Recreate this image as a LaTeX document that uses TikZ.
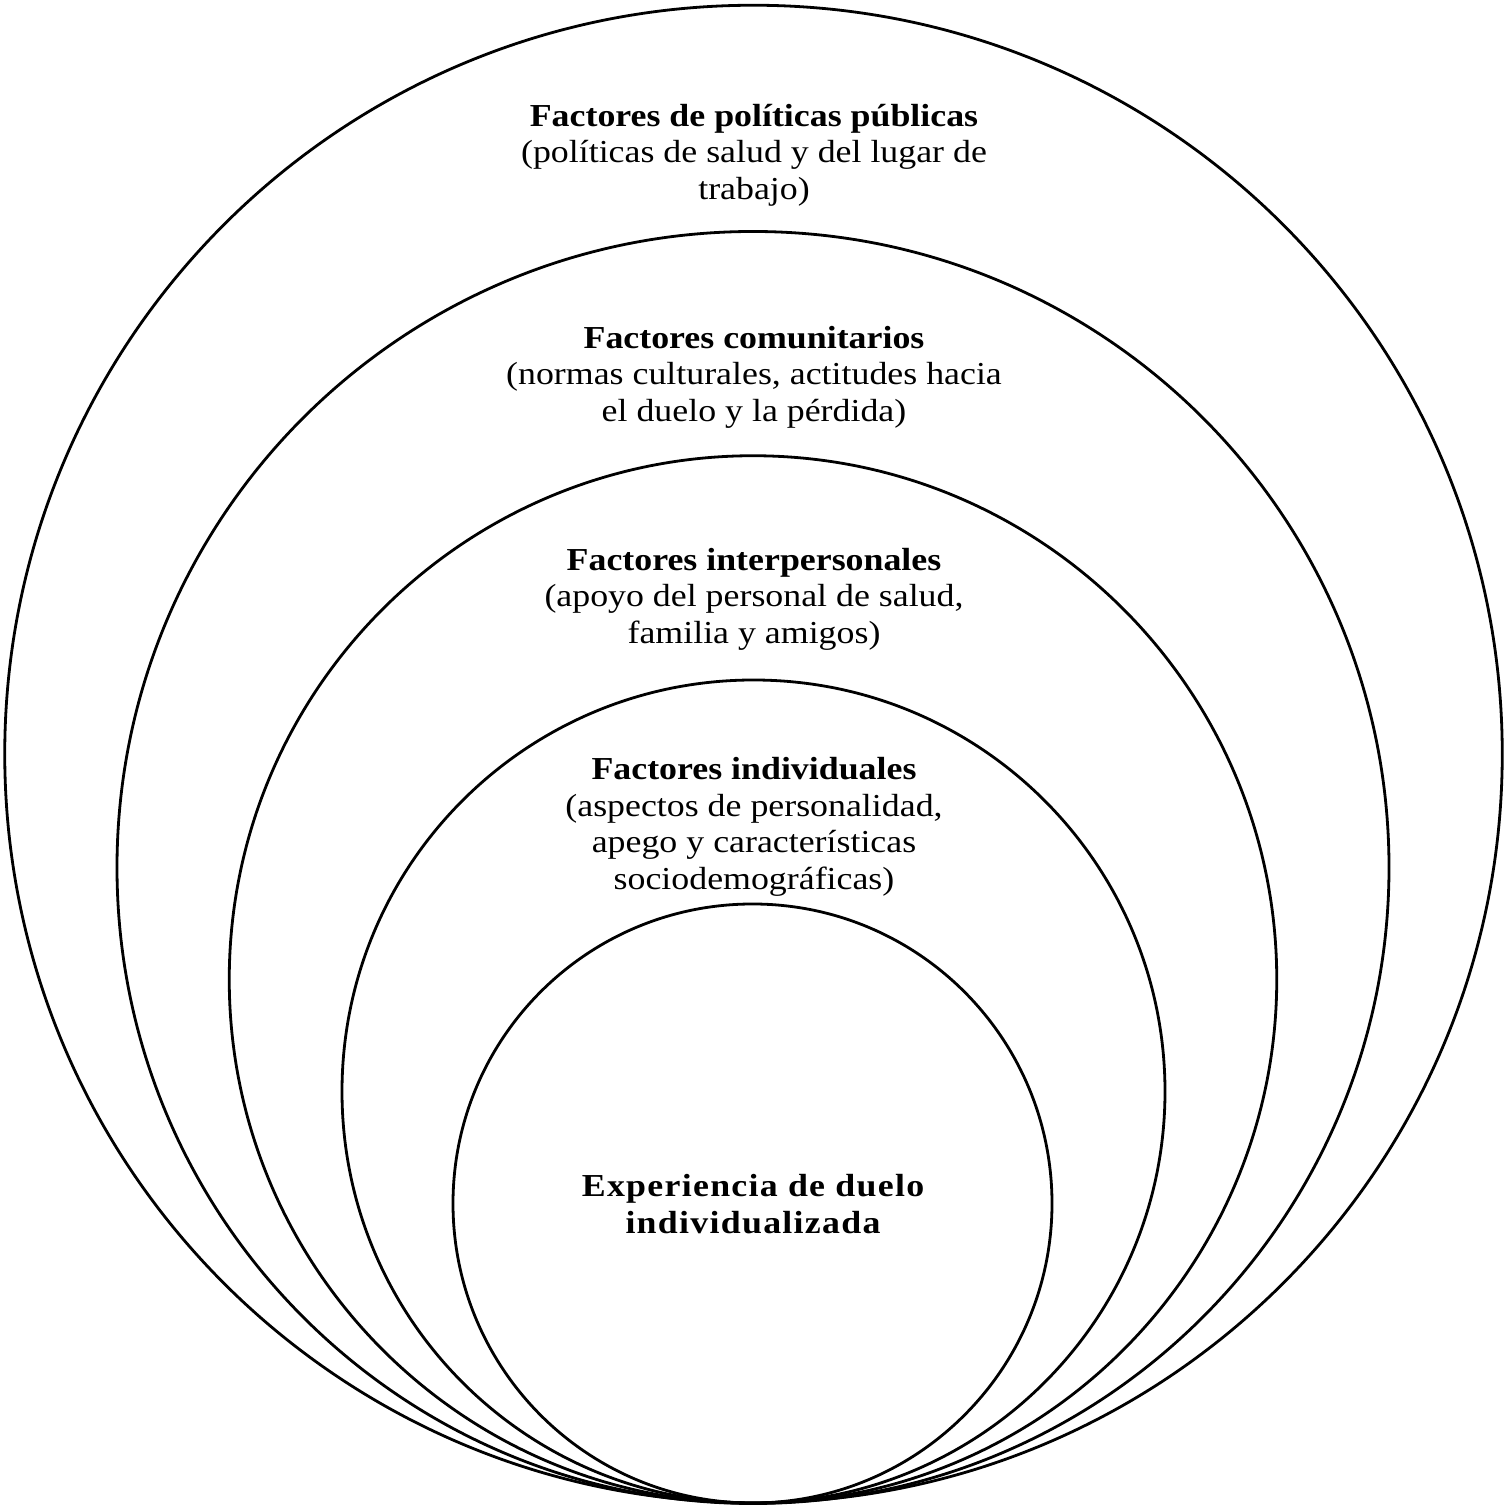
\documentclass[tikz,border=0pt]{standalone}
\usepackage{fontspec}
\setmainfont{Liberation Serif}[FakeStretch=1.12]
\newfontfamily\widebold{Liberation Serif}[FakeStretch=1.12,LetterSpace=4,BoldFont={Liberation Serif Bold}]
\begin{document}
\begin{tikzpicture}[x=1pt,y=1pt,
  ring/.style={circle,draw=black,line width=2.8pt,inner sep=0pt,outer sep=0pt},
  lbl/.style={align=center,font=\fontsize{32}{36.5}\selectfont,inner sep=0pt},
  corelbl/.style={align=center,font=\fontsize{32}{36.5}\selectfont\widebold\bfseries,inner sep=0pt}]
\useasboundingbox (0,0) rectangle (1508,1510);
\node[ring,minimum size=1497.5pt] (c1) at (753.5,756) {};
\node[ring,minimum size=1272pt] (c2) at (753,642.5) {};
\node[ring,minimum size=1047.5pt] (c3) at (753,530.5) {};
\node[ring,minimum size=823pt] (c4) at (753.5,418.5) {};
\node[ring,minimum size=599pt] (c5) at (752.5,306.5) {};
\node[lbl] (t1) at (754,1510-155) {\textbf{Factores de políticas públicas}\\(políticas de salud y del lugar de\\trabajo)};
\node[lbl] (t2) at (754,1510-377) {\textbf{Factores comunitarios}\\(normas culturales, actitudes hacia\\el duelo y la pérdida)};
\node[lbl] (t3) at (754,1510-599) {\textbf{Factores interpersonales}\\(apoyo del personal de salud,\\familia y amigos)};
\node[lbl] (t4) at (754,1510-827) {\textbf{Factores individuales}\\(aspectos de personalidad,\\apego y características\\sociodemográficas)};
\node[corelbl] (t5) at (753,1510-1204) {Experiencia de duelo\\individualizada};
\end{tikzpicture}
\end{document}
